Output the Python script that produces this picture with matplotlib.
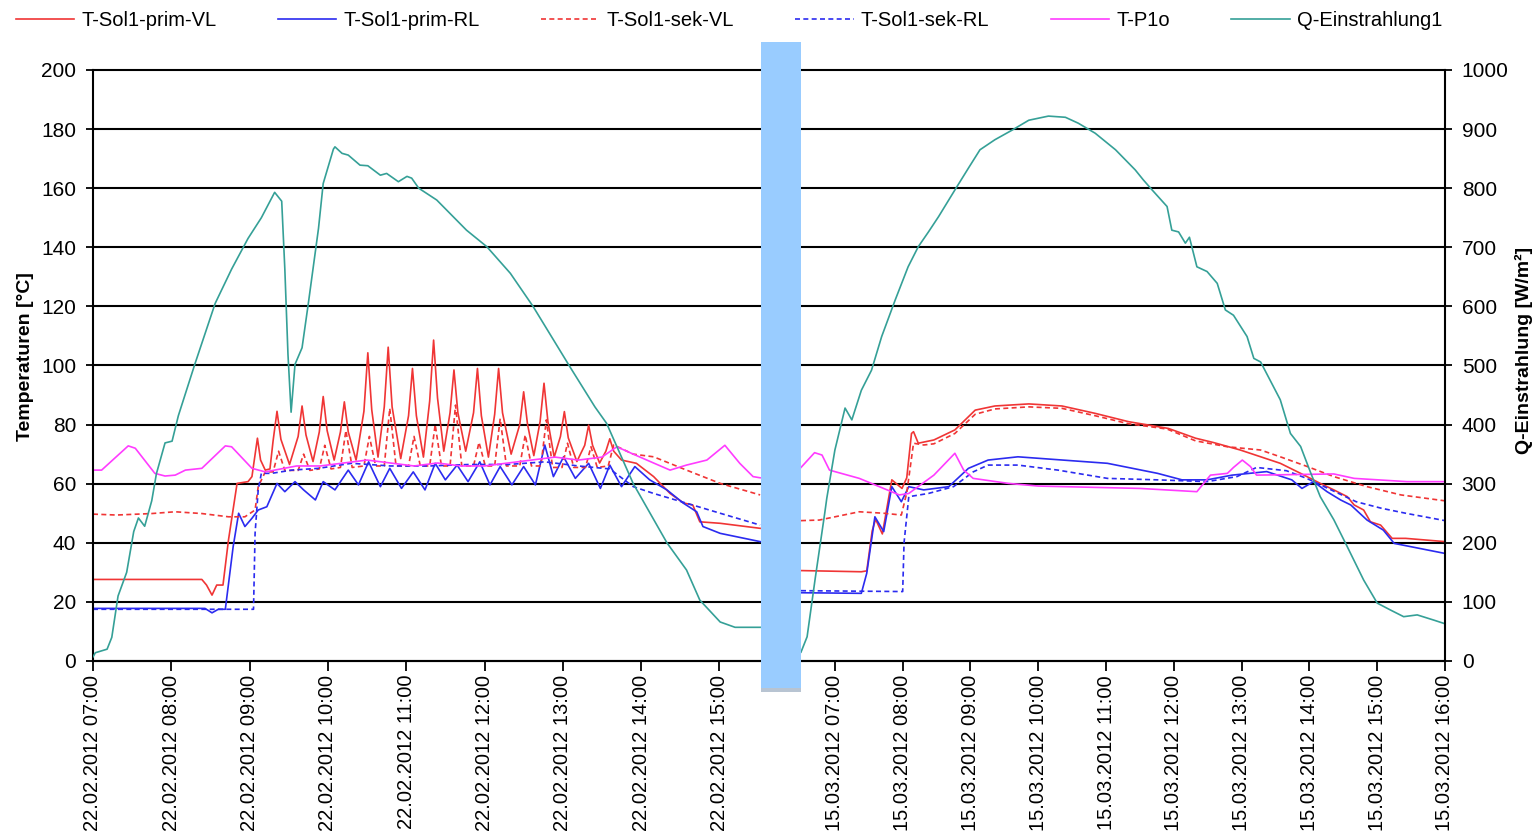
import matplotlib
matplotlib.use('Agg')
import matplotlib.pyplot as plt
from matplotlib.patches import Rectangle

plt.rcParams['font.family'] = ['Liberation Sans', 'DejaVu Sans']

# ---- 22.02.2012 (left panel), time in hours of day ----
left_ticks = [7, 8, 9, 10, 11, 12, 13, 14, 15]
left_labels = ['22.02.2012 %02d:00' % h for h in left_ticks]

vl_prim_l_t = [7.00, 8.39, 8.45, 8.52, 8.58, 8.66, 8.73, 8.84, 8.98, 9.03, 9.06, 9.10, 9.14, 9.20, 9.26,
               9.30, 9.35, 9.40, 9.51, 9.62, 9.67, 9.72, 9.81, 9.89, 9.94, 9.99, 10.08, 10.16, 10.21, 10.26,
               10.36, 10.46, 10.51, 10.56, 10.64, 10.72, 10.77, 10.82, 10.93, 11.03, 11.08, 11.13, 11.22,
               11.30, 11.35, 11.40, 11.48, 11.56, 11.61, 11.66, 11.76, 11.86, 11.91, 11.96, 12.05, 12.13,
               12.18, 12.23, 12.34, 12.45, 12.50, 12.55, 12.63, 12.71, 12.76, 12.81, 12.89, 12.97, 13.02,
               13.07, 13.18, 13.28, 13.33, 13.38, 13.47, 13.55, 13.60, 13.65, 13.75, 13.94, 14.16, 14.37,
               14.54, 14.66, 14.75, 15.01, 15.52]
vl_prim_l = [27.6, 27.6, 25.7, 22.3, 25.7, 25.7, 40.9, 60.1, 60.7, 62.4, 68.0, 75.4, 68.0, 64.6, 65.0,
             74.5, 84.5, 75.0, 66.5, 76.0, 86.3, 76.5, 67.5, 77.5, 89.5, 78.0, 68.0, 77.5, 87.7, 77.5,
             68.0, 84.5, 104.3, 85.0, 69.0, 86.0, 106.2, 86.0, 68.5, 83.0, 99.0, 83.0, 69.0,
             88.0, 108.6, 89.0, 71.0, 84.0, 98.5, 84.0, 71.0, 84.0, 99.0, 83.0, 69.0, 83.5,
             99.0, 84.0, 70.0, 80.0, 91.1, 80.0, 69.5, 81.0, 94.0, 81.0, 69.0, 76.0, 84.4,
             75.5, 67.5, 73.0, 79.8, 73.0, 67.0, 71.0, 75.2, 71.0, 68.0, 66.9, 62.4, 56.7,
             53.5, 52.8, 47.1, 46.6, 44.9]

bl_prim_l_t = [7.00, 8.43, 8.52, 8.60, 8.69, 8.79, 8.86, 8.94, 9.03, 9.11, 9.22, 9.35, 9.45, 9.58, 9.69,
               9.84, 9.94, 10.09, 10.26, 10.39, 10.52, 10.67, 10.79, 10.94, 11.09, 11.24, 11.37, 11.50,
               11.65, 11.79, 11.94, 12.07, 12.20, 12.35, 12.50, 12.65, 12.77, 12.88, 13.01, 13.16, 13.33,
               13.48, 13.60, 13.75, 13.92, 14.11, 14.33, 14.54, 14.71, 14.79, 15.01, 15.52]
bl_prim_l = [17.8, 17.8, 16.3, 17.5, 17.5, 38.7, 50.0, 45.5, 48.3, 51.1, 52.2, 60.1, 57.3, 60.7, 57.9,
             54.5, 60.7, 57.9, 64.6, 59.6, 67.4, 59.0, 65.2, 58.4, 64.0, 57.9, 66.9, 61.3,
             66.3, 60.7, 67.4, 59.6, 65.8, 59.6, 65.8, 59.6, 73.1, 62.4, 69.1, 61.8, 66.9,
             58.4, 66.3, 59.0, 65.8, 61.3, 57.9, 53.4, 50.5, 45.5, 43.2, 40.4]

vl_sek_l_t = [7.00, 7.30, 7.75, 8.05, 8.39, 8.73, 8.94, 9.07, 9.11, 9.20, 9.30, 9.37, 9.45, 9.62, 9.69,
              9.77, 9.89, 9.96, 10.04, 10.16, 10.23, 10.31, 10.46, 10.53, 10.61, 10.72, 10.79, 10.87,
              11.03, 11.10, 11.18, 11.30, 11.37, 11.45, 11.56, 11.63, 11.71, 11.86, 11.93, 12.01, 12.13,
              12.20, 12.28, 12.45, 12.52, 12.60, 12.72, 12.79, 12.87, 12.99, 13.06, 13.14, 13.29, 13.36,
              13.44, 13.58, 13.65, 13.90, 14.16, 14.58, 15.01, 15.52]
vl_sek_l = [49.7, 49.4, 49.9, 50.5, 49.9, 48.8, 48.8, 51.1, 59.0, 64.0, 64.0, 71.0, 64.5, 64.5, 70.0,
            64.5, 65.0, 73.0, 65.0, 65.5, 78.0, 65.5, 66.0, 76.0, 66.0, 66.0, 85.5, 66.0,
            66.0, 76.0, 66.0, 66.0, 80.0, 66.0, 66.0, 86.6, 66.0, 66.0, 74.0, 66.0, 66.0,
            82.0, 66.0, 66.0, 76.5, 66.0, 66.0, 81.6, 65.5, 65.5, 73.7, 65.5, 65.5, 72.5,
            65.5, 66.0, 73.1, 70.0, 69.1, 64.6, 60.1, 56.2]

bl_sek_l_t = [7.00, 9.05, 9.07, 9.11, 9.15, 9.28, 9.54, 9.88, 10.30, 10.80, 11.30, 11.80, 12.30, 12.77,
              13.20, 13.60, 13.90, 14.16, 14.58, 15.01, 15.52]
bl_sek_l = [17.5, 17.5, 43.2, 57.9, 63.5, 63.5, 64.6, 65.2, 66.9, 66.0, 66.0, 66.5, 66.5, 67.4,
            66.0, 65.0, 59.0, 56.7, 53.4, 50.0, 46.0]

p1o_l_t = [7.00, 7.11, 7.45, 7.54, 7.79, 7.92, 8.05, 8.18, 8.39, 8.69, 8.77, 9.03, 9.20, 9.40, 9.60,
           9.90, 10.20, 10.50, 10.80, 11.10, 11.40, 11.70, 12.00, 12.30, 12.60, 12.90, 13.20, 13.50,
           13.69, 13.90, 14.16, 14.37, 14.58, 14.84, 15.07, 15.26, 15.43, 15.52]
p1o_l = [64.6, 64.6, 72.8, 72.0, 63.5, 62.6, 62.9, 64.6, 65.2, 72.8, 72.5, 65.2, 64.0, 65.0, 66.0,
         66.0, 67.0, 68.0, 67.0, 66.0, 67.0, 66.0, 66.0, 67.0, 68.0, 69.0, 68.0, 69.0,
         72.5, 70.0, 67.0, 64.6, 66.3, 68.0, 73.0, 66.9, 62.4, 62.0]

q_l_t = [7.00, 7.03, 7.18, 7.24, 7.32, 7.43, 7.52, 7.58, 7.66, 7.75, 7.81, 7.92, 8.01, 8.09, 8.30,
         8.56, 8.77, 8.98, 9.15, 9.32, 9.41, 9.45, 9.49, 9.53, 9.58, 9.67, 9.75, 9.88, 9.94, 10.07,
         10.09, 10.18, 10.26, 10.41, 10.51, 10.67, 10.75, 10.90, 11.01, 11.07, 11.16, 11.39, 11.77,
         12.03, 12.33, 12.62, 13.09, 13.41, 13.56, 13.90, 14.33, 14.58, 14.75, 15.01, 15.20, 15.52]
q_l = [7, 14, 20, 40, 110, 150, 219, 242, 228, 271, 317, 369, 372, 415, 502,
       605, 663, 715, 750, 793, 778, 663, 519, 421, 502, 530, 605, 732, 808, 866,
       870, 859, 856, 839, 838, 822, 825, 811, 820, 817, 800, 780, 729,
       701, 656, 600, 498, 430, 402, 300, 200, 154, 103, 66, 57, 57]

# ---- 15.03.2012 (right panel) ----
right_ticks = [7, 8, 9, 10, 11, 12, 13, 14, 15, 16]
right_labels = ['15.03.2012 %02d:00' % h for h in right_ticks]

vl_prim_r_t = [6.50, 7.39, 7.47, 7.55, 7.60, 7.70, 7.84, 7.99, 8.06, 8.13, 8.16, 8.23, 8.46, 8.77, 9.07,
               9.36, 9.86, 10.35, 10.84, 11.33, 11.92, 12.32, 12.59, 12.98, 13.57, 13.87, 14.16, 14.36,
               14.56, 14.66, 14.80, 14.90, 15.05, 15.22, 15.42, 16.00]
vl_prim_r = [30.6, 30.2, 30.5, 44.0, 48.0, 43.0, 61.3, 58.4, 62.0, 77.0, 77.6, 73.7, 74.8, 78.2, 84.9,
             86.3, 87.0, 86.3, 83.8, 81.0, 78.7, 75.4, 73.9, 71.4, 66.9, 63.5, 60.1, 57.9,
             55.6, 52.8, 51.1, 47.1, 46.0, 41.5, 41.5, 40.4]

vl_sek_r_t = [6.50, 6.77, 7.36, 7.72, 7.98, 8.06, 8.16, 8.31, 8.46, 8.77, 9.07, 9.36, 9.86, 10.35, 10.84,
              11.33, 11.90, 12.32, 12.79, 13.28, 13.57, 13.97, 14.36, 14.85, 15.35, 16.00]
vl_sek_r = [47.5, 47.7, 50.5, 50.0, 49.4, 56.9, 73.7, 73.1, 73.5, 77.0, 83.5, 85.3, 86.0, 85.5, 83.0,
            80.3, 78.5, 74.5, 72.5, 71.4, 69.1, 65.8, 62.4, 59.0, 56.2, 54.2]

bl_prim_r_t = [6.50, 7.39, 7.47, 7.59, 7.72, 7.84, 7.98, 8.09, 8.31, 8.68, 8.97, 9.26, 9.70, 10.00, 11.02,
               11.76, 12.12, 12.49, 12.86, 13.37, 13.74, 13.89, 14.06, 14.26, 14.46, 14.61, 14.85, 15.09,
               15.25, 16.00]
bl_prim_r = [23.1, 22.9, 29.7, 48.8, 43.8, 59.0, 53.9, 59.0, 57.9, 59.0, 65.2, 68.0, 69.1, 68.6, 66.9,
             63.5, 61.3, 61.3, 62.9, 64.1, 61.3, 58.4, 60.7, 57.3, 54.5, 52.8, 47.7, 44.3,
             39.8, 36.4]

bl_sek_r_t = [6.50, 8.00, 8.02, 8.09, 8.38, 8.75, 9.04, 9.26, 9.70, 10.29, 11.02, 11.76, 12.49, 12.93,
              13.22, 13.66, 13.96, 14.32, 14.69, 15.06, 15.42, 16.00]
bl_sek_r = [23.8, 23.5, 40.0, 55.6, 56.7, 59.0, 64.0, 66.3, 66.3, 64.6, 61.8, 61.3, 60.7, 62.4,
            65.5, 64.4, 61.8, 57.9, 53.9, 51.7, 50.0, 47.5]

p1o_r_t = [6.50, 6.70, 6.81, 6.92, 7.36, 7.95, 8.09, 8.46, 8.77, 8.90, 9.04, 9.56, 10.00, 11.50, 12.34,
           12.54, 12.79, 12.88, 13.01, 13.13, 13.22, 14.36, 14.66, 15.44, 16.00]
p1o_r = [65.5, 70.5, 69.7, 64.6, 61.8, 56.2, 56.7, 62.9, 70.3, 64.6, 61.8, 60.1, 59.2, 58.4, 57.3,
         62.9, 63.5, 65.5, 68.0, 65.8, 62.9, 63.3, 61.8, 60.7, 60.7]

q_r_t = [6.50, 6.59, 6.71, 6.85, 6.88, 7.00, 7.15, 7.25, 7.39, 7.54, 7.69, 7.89, 8.08, 8.23, 8.38,
         8.53, 8.77, 8.97, 9.14, 9.36, 9.61, 9.86, 10.15, 10.40, 10.59, 10.84, 11.14, 11.43, 11.55,
         11.68, 11.90, 11.97, 12.07, 12.17, 12.23, 12.34, 12.49, 12.64, 12.76, 12.88, 13.08, 13.18,
         13.28, 13.57, 13.72, 13.87, 14.02, 14.16, 14.36, 14.56, 14.80, 15.00, 15.20, 15.39, 15.59,
         15.84, 16.00]
q_r = [15, 41, 140, 250, 275, 357, 428, 408, 458, 492, 549, 611, 667, 701, 726,
       752, 797, 834, 865, 882, 898, 915, 922, 920, 910, 893, 865, 831, 814,
       797, 769, 729, 726, 707, 717, 667, 659, 639, 594, 585, 549, 512,
       506, 442, 385, 363, 318, 278, 239, 193, 137, 98, 86, 75, 78,
       69, 63]

# ---- styles ----
RED = '#F03535'
BLUE = '#2B2BF0'
MAG = '#FF3CFF'
TEAL = '#35A097'
LW = 1.2
DASH = (3, 2)
FS = 15
XFS = 14.5

W, H = 1538, 834


def box(x0, x1, ytop, ybot):
    return [x0 / W, 1 - ybot / H, (x1 - x0) / W, (ybot - ytop) / H]


fig = plt.figure(figsize=(W / 100, H / 100), dpi=100)
ax1 = fig.add_axes(box(93, 765, 70, 661))
ax2 = fig.add_axes(box(801, 1445, 70, 661))
ax1b = ax1.twinx()
ax2b = ax2.twinx()

# temperatures
h1, = ax1.plot(vl_prim_l_t, vl_prim_l, color=RED, lw=LW, label='T-Sol1-prim-VL')
h2, = ax1.plot(bl_prim_l_t, bl_prim_l, color=BLUE, lw=LW, label='T-Sol1-prim-RL')
h3, = ax1.plot(vl_sek_l_t, vl_sek_l, color=RED, lw=LW, dashes=DASH, label='T-Sol1-sek-VL')
h4, = ax1.plot(bl_sek_l_t, bl_sek_l, color=BLUE, lw=LW, dashes=DASH, label='T-Sol1-sek-RL')
h5, = ax1.plot(p1o_l_t, p1o_l, color=MAG, lw=LW, label='T-P1o')
h6, = ax1b.plot(q_l_t, q_l, color=TEAL, lw=LW, label='Q-Einstrahlung1')

ax2.plot(vl_prim_r_t, vl_prim_r, color=RED, lw=LW)
ax2.plot(bl_prim_r_t, bl_prim_r, color=BLUE, lw=LW)
ax2.plot(vl_sek_r_t, vl_sek_r, color=RED, lw=LW, dashes=DASH)
ax2.plot(bl_sek_r_t, bl_sek_r, color=BLUE, lw=LW, dashes=DASH)
ax2.plot(p1o_r_t, p1o_r, color=MAG, lw=LW)
ax2b.plot(q_r_t, q_r, color=TEAL, lw=LW)

ax1.set_xlim(7.0, 7.0 + (765 - 93) / 78.3)
ax2.set_xlim(6.5, 16.0)

for ax in (ax1, ax2):
    ax.set_ylim(0, 200)
    ax.set_yticks(range(0, 201, 20))
    ax.grid(axis='y', color='black', lw=1.5)
    ax.set_axisbelow(True)
    for gl in ax.yaxis.get_gridlines():
        gl.set_clip_on(False)
    ax.spines['top'].set_visible(False)
    ax.spines['bottom'].set_linewidth(1.5)
    ax.tick_params(axis='x', direction='out', length=7, width=1.3, pad=3, labelsize=XFS)

for ax in (ax1b, ax2b):
    ax.set_ylim(0, 1000)
    for s in ax.spines.values():
        s.set_visible(False)

ax1.spines['right'].set_visible(False)
ax1.spines['left'].set_linewidth(1.5)
ax1.tick_params(axis='y', direction='out', length=5, width=1.3, pad=7, labelsize=FS)
ax1.set_xticks(left_ticks, left_labels, rotation=90)
ax1b.set_yticks([])

ax2.spines['left'].set_visible(False)
ax2.spines['right'].set_visible(False)
ax2.tick_params(axis='y', left=False, labelleft=False)
ax2.set_xticks(right_ticks, right_labels, rotation=90)
ax2b.spines['right'].set_visible(True)
ax2b.spines['right'].set_linewidth(1.5)
ax2b.set_yticks(range(0, 1001, 100))
ax2b.tick_params(axis='y', direction='out', length=5, width=1.3, pad=7, labelsize=FS)

fig.text(25 / W, 1 - 357 / H, 'Temperaturen [°C]', rotation=90, ha='center', va='center',
         fontsize=14, fontweight='bold')
fig.text(1524 / W, 1 - 350 / H, 'Q-Einstrahlung [W/m²]', rotation=90, ha='center', va='center',
         fontsize=14, fontweight='bold')

fig.legend([h1, h2, h3, h4, h5, h6],
           ['T-Sol1-prim-VL', 'T-Sol1-prim-RL', 'T-Sol1-sek-VL', 'T-Sol1-sek-RL', 'T-P1o',
            'Q-Einstrahlung1'],
           loc='center', bbox_to_anchor=(729 / W, 1 - 21 / H), ncol=6, frameon=False,
           fontsize=14.5, handlelength=2.9, handletextpad=0.35, columnspacing=3.05, borderpad=0)

# light blue break bar pasted between the two days
fig.add_artist(Rectangle((761 / W, 1 - 690 / H), 40 / W, 648 / H, transform=fig.transFigure,
                         facecolor='#99CCFF', edgecolor='none', zorder=10))
fig.add_artist(Rectangle((761 / W, 1 - 692 / H), 40 / W, 4 / H, transform=fig.transFigure,
                         facecolor='#B8C4D2', edgecolor='none', zorder=10))

fig.savefig('out.png', dpi=100)
